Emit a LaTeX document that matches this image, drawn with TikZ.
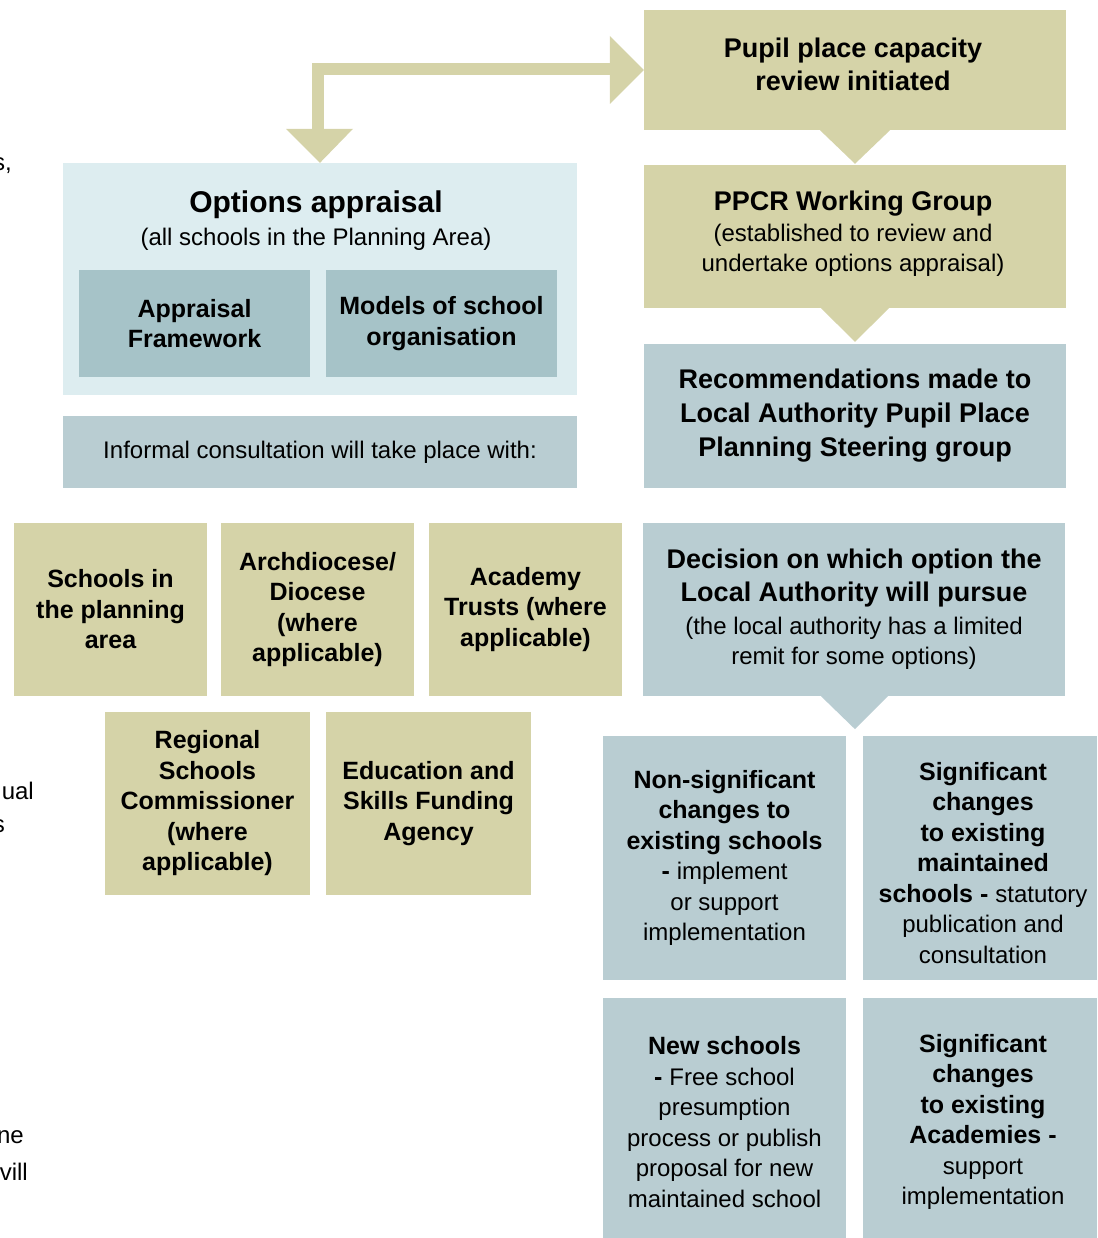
\documentclass[tikz,border=0pt]{standalone}
\usepackage{fontspec}
\setmainfont{Liberation Sans}
\usetikzlibrary{calc}
\definecolor{khaki}{HTML}{D5D3A8}
\definecolor{bgrey}{HTML}{B9CDD2}
\definecolor{lightbg}{HTML}{DDEDF0}
\definecolor{innerb}{HTML}{A6C3C8}
\newcommand{\rt}{\fontsize{24}{30.5}\selectfont\mdseries}
\tikzset{
  boxbase/.style={inner sep=0pt, align=center, text=black},
  kbox/.style={boxbase, fill=khaki},
  bbox/.style={boxbase, fill=bgrey},
  ibox/.style={boxbase, fill=innerb},
  fb/.style={font=\fontsize{25}{30.5}\selectfont\bfseries},
  fbl/.style={font=\fontsize{27}{33}\selectfont\bfseries},
  fr/.style={font=\fontsize{24}{30.5}\selectfont},
  edgetxt/.style={anchor=east, inner sep=0pt, font=\fontsize{24}{30}\selectfont}
}
\begin{document}
\begin{tikzpicture}[x=1pt,y=-1pt]
\useasboundingbox (0,0) rectangle (1097,1238);
% right column
\node[kbox, fbl, minimum width=422, minimum height=120] (ppc) at (855,70) {};
\node[boxbase, fbl] (ppct) at (853,64.5) {Pupil place capacity\\review initiated};
\node[kbox, fbl, minimum width=422, minimum height=143] (ppcr) at (855,236.5) {};
\node[boxbase, fbl] (ppcrt) at (853,233.5)
  {PPCR Working Group\\[-2pt]{\rt (established to review and}\\[-3pt]{\rt undertake options appraisal)}};
\node[bbox, fbl, minimum width=422, minimum height=144] (rec) at (855,416)
  {Recommendations made to\\[1pt]Local Authority Pupil Place\\[1pt]Planning Steering group};
\node[bbox, fbl, minimum width=422, minimum height=173] (dec) at (854,609.5)
  {Decision on which option the\\Local Authority will pursue\\{\rt (the local authority has a limited}\\[-3pt]{\rt remit for some options)}};
\node[bbox, fb, minimum width=243, minimum height=244] (nonsig) at (724.5,858)
  {Non-significant\\changes to\\existing schools\\- {\rt implement}\\{\rt or support}\\{\rt implementation}};
\node[bbox, fb, minimum width=234, minimum height=244] (sigm) at (980,858) {};
\node[boxbase, fb] (sigmt) at (983,863)
  {Significant\\changes\\to existing\\maintained\\schools - {\rt statutory}\\{\rt publication and}\\{\rt consultation}};
\node[bbox, fb, minimum width=243, minimum height=240] (news) at (724.5,1118) {};
\node[boxbase, fb] (newst) at (724.5,1122)
  {New schools\\- {\rt Free school}\\{\rt presumption}\\{\rt process or publish}\\{\rt proposal for new}\\{\rt maintained school}};
\node[bbox, fb, minimum width=234, minimum height=240] (siga) at (980,1118) {};
\node[boxbase, fb] (sigat) at (983,1122)
  {Significant\\changes\\to existing\\Academies -\\{\rt support}\\{\rt implementation}};
% connectors (triangles)
\fill[khaki] ($(ppc.south)+(-35,0)$) -- ($(ppc.south)+(35,0)$) -- ($(ppcr.north)+(0,-1)$) -- cycle;
\fill[khaki] ($(ppcr.south)+(-34,0)$) -- ($(ppcr.south)+(34,0)$) -- ($(rec.north)+(0,-2)$) -- cycle;
\fill[bgrey] ($(dec.south)+(-33,0)$) -- ($(dec.south)+(34,0)$) -- ($(dec.south)+(1,33)$) -- cycle;
% left column
\node[boxbase, fill=lightbg, minimum width=514, minimum height=232] (opt) at (320,279) {};
\node[boxbase, font=\fontsize{30}{34}\selectfont\bfseries] (optt) at (316,221)
  {Options appraisal\\[-1pt]{\rt (all schools in the Planning Area)}};
\node[ibox, fb, minimum width=231, minimum height=107] (af) at (194.5,323.5)
  {Appraisal\\Framework};
\node[ibox, fb, minimum width=231, minimum height=107] (mo) at (441.5,323.5)
  {Models of school\\organisation};
\node[bbox, fr, minimum width=514, minimum height=72] (inf) at (320,452)
  {Informal consultation will take place with:};
\node[kbox, fb, minimum width=193, minimum height=173] (sch) at (110.5,609.5)
  {Schools in\\the planning\\area};
\node[kbox, fb, minimum width=193, minimum height=173] (arch) at (317.5,609.5)
  {Archdiocese/\\Diocese\\(where\\applicable)};
\node[kbox, fb, minimum width=193, minimum height=173] (acad) at (525.5,609.5)
  {Academy\\Trusts (where\\applicable)};
\node[kbox, fb, minimum width=205, minimum height=183] (rsc) at (207.5,803.5)
  {Regional\\Schools\\Commissioner\\(where\\applicable)};
\node[kbox, fb, minimum width=205, minimum height=183] (esfa) at (428.5,803.5)
  {Education and\\Skills Funding\\Agency};
% big arrow from review initiated to options appraisal
\fill[khaki] (ppc.west) -- ++(-34,-34) -- ++(0,68) -- cycle;
\draw[khaki, line width=12] ($(ppc.west)+(-33,-1)$) -| ($(opt.north)+(-2,-32)$);
\fill[khaki] (opt.north) -- ++(-34,-34) -- ++(67,0) -- cycle;
% cut-off text at the left page edge
\node[edgetxt] (e1) at (12,166) {s,};
\node[edgetxt] (e2) at (34,791) {ual};
\node[edgetxt] (e3) at (5,826) {s};
\node[edgetxt] (e4) at (24,1137) {ne};
\node[edgetxt] (e5) at (28,1172) {vill};
\end{tikzpicture}
\end{document}
